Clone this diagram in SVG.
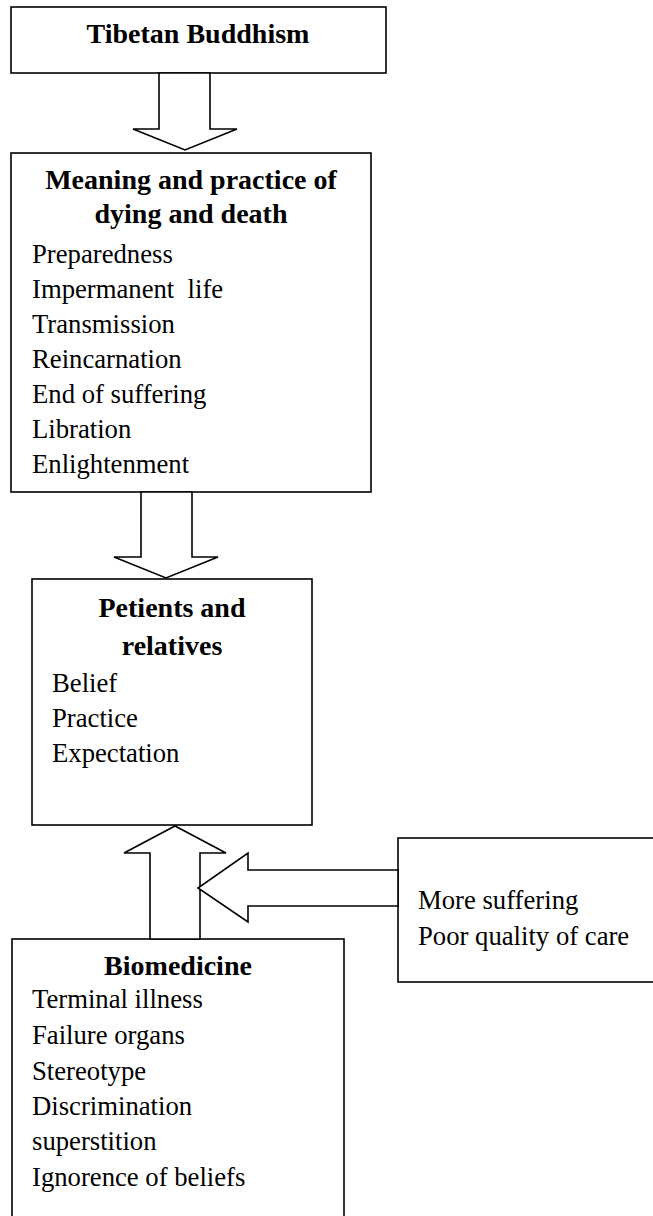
<svg xmlns="http://www.w3.org/2000/svg" width="653" height="1216" viewBox="0 0 653 1216">
<style>
.box{fill:#fff;stroke:#000;stroke-width:1.6}
.arr{fill:#fff;stroke:#000;stroke-width:1.6;stroke-linejoin:miter}
.h{font-family:"Liberation Serif","Times New Roman",serif;font-weight:bold;font-size:28px;fill:#000;text-anchor:middle}
.t{font-family:"Liberation Serif","Times New Roman",serif;font-size:26.7px;fill:#000}
</style>
<rect width="653" height="1216" fill="#fff"/>
<g id="tibetan-buddhism">
<rect class="box" x="11" y="7" width="375" height="66"/>
<text class="h" x="198" y="43">Tibetan Buddhism</text>
</g>
<g id="meaning">
<rect class="box" x="11" y="153" width="360" height="339"/>
<text class="h" x="191" y="189">Meaning and practice of</text>
<text class="h" x="191" y="223">dying and death</text>
<text class="t" x="32" y="262.5">Preparedness</text>
<text class="t" x="32" y="297.5" xml:space="preserve">Impermanent  life</text>
<text class="t" x="32" y="332.5">Transmission</text>
<text class="t" x="32" y="367.5">Reincarnation</text>
<text class="t" x="32" y="402.5">End of suffering</text>
<text class="t" x="32" y="437.5">Libration</text>
<text class="t" x="32" y="472.5">Enlightenment</text>
</g>
<g id="patients">
<rect class="box" x="32" y="579" width="280" height="246"/>
<text class="h" x="172" y="617">Petients and</text>
<text class="h" x="172" y="655">relatives</text>
<text class="t" x="52" y="692">Belief</text>
<text class="t" x="52" y="727">Practice</text>
<text class="t" x="52" y="762">Expectation</text>
</g>
<g id="consequences">
<rect class="box" x="398" y="838" width="270" height="144"/>
<text class="t" x="418" y="909">More suffering</text>
<text class="t" x="418" y="945">Poor quality of care</text>
</g>
<g id="biomedicine">
<rect class="box" x="12" y="939" width="332" height="300"/>
<text class="h" x="178" y="975">Biomedicine</text>
<text class="t" x="32" y="1008">Terminal illness</text>
<text class="t" x="32" y="1044">Failure organs</text>
<text class="t" x="32" y="1080">Stereotype</text>
<text class="t" x="32" y="1115">Discrimination</text>
<text class="t" x="32" y="1150">superstition</text>
<text class="t" x="32" y="1186">Ignorence of beliefs</text>
</g>
<g id="connectors">
<polygon class="arr" points="159,73 159,129 133,129 185,150 237,129 210,129 210,73"/>
<polygon class="arr" points="141,492 141,557 114,557 166,578 218,557 192,557 192,492"/>
<polygon class="arr" points="150,939 150,853 124,853 175,826 226,853 200,853 200,939"/>
<polygon class="arr" points="398,870 248,870 248,853 198,888 248,922 248,906 398,906"/>
</g>
</svg>
